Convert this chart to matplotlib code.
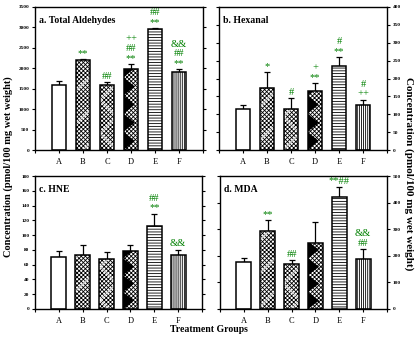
import numpy as np
import matplotlib
matplotlib.use("Agg")
import matplotlib.pyplot as plt
from matplotlib.patches import Polygon

plt.rcParams["font.family"] = ["Liberation Serif", "DejaVu Serif"]
plt.rcParams["hatch.linewidth"] = 0.6

groups = ["A", "B", "C", "D", "E", "F"]

total_mean = [1600, 2205, 1585, 1980, 2950, 1910]
total_err = [100, 20, 70, 120, 40, 65]
hexanal_mean = [115, 174, 116, 166, 235, 126]
hexanal_err = [11, 43, 30, 22, 25, 15]
hne_mean = [71, 73.5, 68, 79, 113, 73.5]
hne_err = [8, 13.5, 9.5, 8, 16, 7]
mda_mean = [176, 292, 169, 247, 420, 187]
mda_err = [15, 43, 15, 79, 39, 39]

# significance marks, listed top line first
total_marks = [[], ["**"], ["##"], ["++", "##", "**"], ["##", "**"], ["&&", "##", "**"]]
hexanal_marks = [[], ["*"], ["#"], ["+", "**"], ["#", "**"], ["#", "++"]]
hne_marks = [[], [], [], [], ["##", "**"], ["&&"]]
mda_marks = [[], ["**"], ["##"], [], ["**##"], ["&&", "##"]]

GREEN = "#008000"
W, H = 415, 341

fig = plt.figure(figsize=(W / 100, H / 100), dpi=100)


def px_axes(left, top, right, bottom):
    return fig.add_axes([left / W, 1 - bottom / H, (right - left) / W, (bottom - top) / H])


def draw_panel(ax, means, errs, marks, ymax, ystep, title, label_side):
    x = np.arange(1, 7)
    width = 0.62
    ax.set_xlim(0, 7)
    ax.set_ylim(0, ymax)
    hatches = [None, "xxxxxxxx", "xxxxxxxx", "xxxxxxxx", "------", "||||||||"]
    bars = ax.bar(x, means, width=width, color="white", edgecolor="black",
                  linewidth=0, zorder=2)
    for b, h in zip(bars, hatches):
        if h:
            b.set_hatch(h)
    # white streaks through the checkered fills
    for i, h in ((1, "/"), (2, "x")):
        ax.bar(x[i], means[i], width=width, color="none", edgecolor="white",
               hatch=h, linewidth=0, zorder=3)
    # black saw-tooth on the D bar
    bD = bars[3]
    x0, w, hD = bD.get_x(), bD.get_width(), bD.get_height()
    period = 0.127 * ymax
    k = 0
    while k * period < hD:
        y0 = k * period
        tri = Polygon([[x0, y0], [x0 + 0.75 * w, y0 + period / 2], [x0, y0 + period]],
                      closed=True, facecolor="black", edgecolor="none", zorder=4)
        ax.add_patch(tri)
        tri.set_clip_path(bD)
        k += 1
    # outlines
    ax.bar(x, means, width=width, color="none", edgecolor="black", linewidth=1.1, zorder=5)
    ax.errorbar(x, means, yerr=[np.zeros(6), errs], fmt="none", ecolor="black",
                elinewidth=0.9, capsize=2.2, capthick=0.9, zorder=1)
    for xi, m, e, mk in zip(x, means, errs, marks):
        n = len(mk)
        for j, s in enumerate(mk):
            level = n - 1 - j
            ax.annotate(s, (xi, m + e), xytext=(0, 0.8 + 7.0 * level),
                        textcoords="offset points", ha="center", va="bottom",
                        color=GREEN, fontsize=7.6)
    ax.set_yticks(np.arange(0, ymax + 1, ystep))
    ax.set_xticks(np.arange(0, 8))
    ax.set_xticklabels([""] + groups + [""], fontsize=6)
    ax.tick_params(axis="x", direction="out", length=2.5, width=0.8, pad=3)
    ax.tick_params(axis="y", direction="out", length=2.5, width=0.8, pad=1.5,
                   labelsize=3.8, left=True, right=True,
                   labelleft=(label_side == "left"), labelright=(label_side == "right"))
    for lab in ax.get_yticklabels():
        lab.set_fontweight("bold")
    for sp in ax.spines.values():
        sp.set_linewidth(1.0)
    ax.text(0.025, 0.935, title, transform=ax.transAxes, ha="left", va="top",
            fontsize=7, fontweight="bold")


ax_a = px_axes(35, 7, 203, 150)
ax_b = px_axes(219, 7, 387, 150)
ax_c = px_axes(35, 176, 202, 309)
ax_d = px_axes(220, 176, 387, 309)

draw_panel(ax_a, total_mean, total_err, total_marks, 3500, 500, "a. Total Aldehydes", "left")
draw_panel(ax_b, hexanal_mean, hexanal_err, hexanal_marks, 400, 50, "b. Hexanal", "right")
draw_panel(ax_c, hne_mean, hne_err, hne_marks, 180, 20, "c. HNE", "left")
draw_panel(ax_d, mda_mean, mda_err, mda_marks, 500, 100, "d. MDA", "right")

ylab = "Concentration (pmol/100 mg wet weight)"
fig.text(8 / W, 1 - 167 / H, ylab, rotation=90, ha="center", va="center",
         fontsize=7.5, fontweight="bold")
fig.text(409 / W, 1 - 174 / H, ylab, rotation=-90, ha="center", va="center",
         fontsize=8, fontweight="bold")
fig.text(209 / W, 1 - 330 / H, "Treatment Groups", ha="center", va="center",
         fontsize=7, fontweight="bold")

fig.savefig("out.png", dpi=100)
